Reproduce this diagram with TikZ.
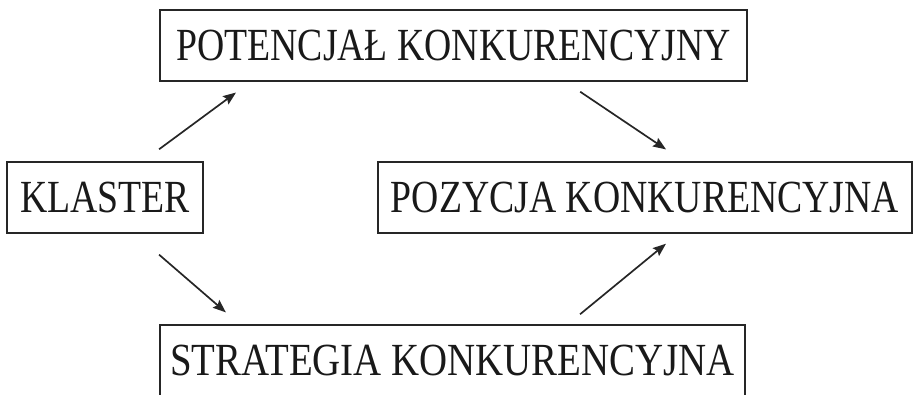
\documentclass[tikz,border=0pt]{standalone}
\usepackage{graphicx}
\usepackage{fontspec}
\setmainfont[FakeStretch=0.82]{Liberation Serif}
\usetikzlibrary{arrows.meta}
\begin{document}
\begin{tikzpicture}[x=1pt,y=-1pt,
  box/.style={draw=black!85, line width=1.7pt, inner sep=0pt, minimum height=71pt,
    font=\fontsize{46}{50}\selectfont, text=black!90},
  arr/.style={draw=black!85, line width=1.7pt, -{Stealth[length=13pt,width=10pt,inset=2pt]}}]
\useasboundingbox (0,0) rectangle (915,394);
\node[box, minimum width=587pt] (pot) at (453.5,45.5) {POTENCJAŁ KONKURENCYJNY};
\node[box, minimum width=196pt] (kla) at (105,197.5) {KLASTER};
\node[box, minimum width=534pt] (poz) at (645,197.5) {POZYCJA KONKURENCYJNA};
\node[box, minimum width=585pt] (str) at (452.5,360.5) {\scalebox{1.03}[1]{STRATEGIA KONKURENCYJNA}};
\draw[arr, shorten <=20pt, shorten >=18pt] ([xshift=38pt]kla.north) -- ([xshift=-203pt]pot.south);
\draw[arr, shorten <=17.7pt, shorten >=21pt] ([xshift=112pt]pot.south) -- ([xshift=38.5pt]poz.north);
\draw[arr, shorten <=31.8pt, shorten >=18pt] ([xshift=30pt]kla.south) -- ([xshift=-213pt]str.north);
\draw[arr, shorten <=15.6pt, shorten >=15.6pt] ([xshift=115.5pt]str.north) -- ([xshift=33pt]poz.south);
\end{tikzpicture}
\end{document}
